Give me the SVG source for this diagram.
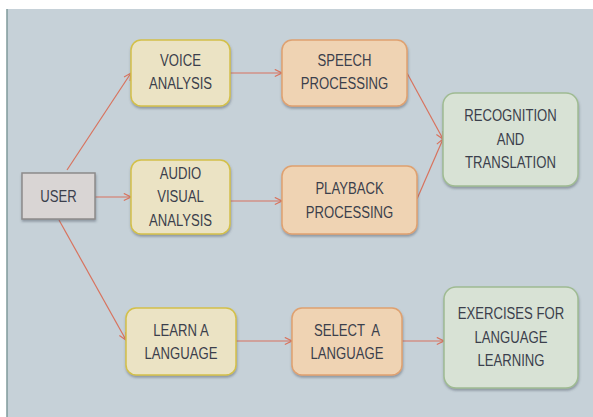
<svg xmlns="http://www.w3.org/2000/svg" width="593" height="417" viewBox="0 0 593 417">
  <defs>
    <filter id="shadow" x="-10%" y="-10%" width="125%" height="130%">
      <feDropShadow dx="0.5" dy="2" stdDeviation="1.3" flood-color="#4a5560" flood-opacity="0.45"/>
    </filter>
    <marker id="arrow" viewBox="0 0 10 10" refX="9" refY="5" markerWidth="9" markerHeight="9" markerUnits="userSpaceOnUse" orient="auto">
      <path d="M1,1 L9,5 L1,9" fill="none" stroke="#d8735e" stroke-width="1.3"/>
    </marker>
  </defs>
  <style>
    .yellow { fill: #ebe3c4; stroke: #d3c048; stroke-width: 1.5; }
    .orange { fill: #efd3b3; stroke: #dfa170; stroke-width: 1.5; }
    .green  { fill: #d8e2d5; stroke: #9fbb92; stroke-width: 1.5; }
    .grey   { fill: #d9d5d4; stroke: #8c8a8a; stroke-width: 1.5; }
    .edge   { fill: none; stroke: #d8735e; stroke-width: 1.2; marker-end: url(#arrow); }
    /* condensed labels: squeeze each line horizontally around its own centre */
    text { font-family: "Liberation Sans", Arial, sans-serif; font-size: 16px; fill: #3b3f4c; text-anchor: middle;
           transform-box: fill-box; transform-origin: center; transform: scaleX(0.82); }
  </style>

  <!-- backdrop -->
  <rect x="0" y="0" width="593" height="417" fill="#ffffff"/>
  <rect x="7" y="9" width="586" height="408" fill="#c6d1d8"/>
  <line x1="7" y1="9" x2="7" y2="417" stroke="#7f9a9b" stroke-width="1.5"/>

  <g id="connectors">
    <line class="edge" x1="67" y1="170" x2="131" y2="73"/>
    <line class="edge" x1="95" y1="197" x2="131" y2="197"/>
    <line class="edge" x1="59" y1="220" x2="126" y2="340"/>
    <line class="edge" x1="230" y1="73" x2="282" y2="73"/>
    <line class="edge" x1="226" y1="201" x2="282" y2="201"/>
    <line class="edge" x1="407" y1="73" x2="443" y2="139"/>
    <line class="edge" x1="417" y1="199" x2="443" y2="139"/>
    <line class="edge" x1="236" y1="341" x2="292" y2="341"/>
    <line class="edge" x1="402" y1="341" x2="444" y2="341"/>
  </g>

  <g id="user">
    <rect class="grey" x="22" y="173" width="73" height="46" filter="url(#shadow)"/>
    <text x="58.5" y="202">USER</text>
  </g>

  <g id="voice-analysis">
    <rect class="yellow" x="131" y="40" width="99" height="66" rx="10" filter="url(#shadow)"/>
    <text x="180.5" y="66">VOICE</text>
    <text x="180.5" y="89">ANALYSIS</text>
  </g>

  <g id="audio-visual-analysis">
    <rect class="yellow" x="131" y="160" width="99" height="74" rx="10" filter="url(#shadow)"/>
    <text x="180.5" y="179">AUDIO</text>
    <text x="180.5" y="202">VISUAL</text>
    <text x="180.5" y="226">ANALYSIS</text>
  </g>

  <g id="learn-language">
    <rect class="yellow" x="126" y="308" width="110" height="67" rx="10" filter="url(#shadow)"/>
    <text x="181" y="336">LEARN A</text>
    <text x="181" y="359">LANGUAGE</text>
  </g>

  <g id="speech-processing">
    <rect class="orange" x="282" y="40" width="125" height="66" rx="10" filter="url(#shadow)"/>
    <text x="344.5" y="66">SPEECH</text>
    <text x="344.5" y="89">PROCESSING</text>
  </g>

  <g id="playback-processing">
    <rect class="orange" x="282" y="166" width="135" height="68" rx="10" filter="url(#shadow)"/>
    <text x="349.5" y="194">PLAYBACK</text>
    <text x="349.5" y="218">PROCESSING</text>
  </g>

  <g id="select-language">
    <rect class="orange" x="292" y="308" width="110" height="67" rx="10" filter="url(#shadow)"/>
    <text x="347" y="336" xml:space="preserve">SELECT  A</text>
    <text x="347" y="359">LANGUAGE</text>
  </g>

  <g id="recognition-translation">
    <rect class="green" x="443" y="93" width="135" height="93" rx="12" filter="url(#shadow)"/>
    <text x="510.5" y="121">RECOGNITION</text>
    <text x="510.5" y="145">AND</text>
    <text x="510.5" y="168">TRANSLATION</text>
  </g>

  <g id="exercises">
    <rect class="green" x="444" y="287" width="134" height="101" rx="12" filter="url(#shadow)"/>
    <text x="511" y="319">EXERCISES FOR</text>
    <text x="511" y="343">LANGUAGE</text>
    <text x="511" y="366">LEARNING</text>
  </g>
</svg>
